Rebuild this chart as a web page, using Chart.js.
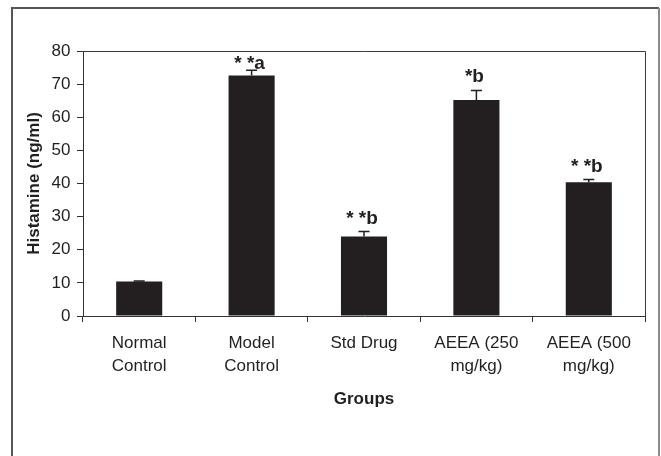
<!DOCTYPE html>
<html>
<head>
<meta charset="utf-8">
<script src="https://cdn.jsdelivr.net/npm/chart.js@4"></script>
<style>
    body { margin: 0; background: #ffffff; }
</style>
</head>
<body>
<canvas id="barChart" width="661" height="456"></canvas>
<script>

    // =========================
    // DATA
    // =========================

    const groups = [
        ["Normal", "Control"],
        ["Model", "Control"],
        ["Std Drug"],
        ["AEEA (250", "mg/kg)"],
        ["AEEA (500", "mg/kg)"]
    ];

    const histamine = [10.4, 72.6, 24.0, 65.2, 40.4];

    const errors = [0.2, 1.6, 1.5, 2.9, 0.8];

    const sigLabels = ["", "* *a", "* *b", "*b", "* *b"];

    const yTicks = [0, 10, 20, 30, 40, 50, 60, 70, 80];

    const ink = "#231f20";
    const fontName = "'Liberation Sans', Arial, sans-serif";

    // =========================
    // FRAME + ERROR BARS
    // =========================

    const framePlugin = {
        id: "frame",
        beforeDraw(chart) {
            const ctx = chart.ctx;
            ctx.save();
            ctx.strokeStyle = "#555555";
            ctx.lineWidth = 2;
            ctx.beginPath();
            ctx.moveTo(12, 456);
            ctx.lineTo(12, 8);
            ctx.lineTo(659, 8);
            ctx.stroke();
            ctx.strokeStyle = "#8a8a8a";
            ctx.beginPath();
            ctx.moveTo(659, 8);
            ctx.lineTo(659, 456);
            ctx.stroke();
            ctx.restore();
        },
        afterDraw(chart) {
            const a = chart.chartArea;
            const ctx = chart.ctx;
            ctx.save();
            ctx.strokeStyle = "#3a3a3a";
            ctx.lineWidth = 1;
            ctx.beginPath();
            ctx.moveTo(a.left, a.top + 0.5);
            ctx.lineTo(a.right + 0.5, a.top + 0.5);
            ctx.lineTo(a.right + 0.5, a.bottom);
            ctx.stroke();
            ctx.restore();
        }
    };

    const errorPlugin = {
        id: "errorBars",
        afterDatasetsDraw(chart) {
            const ctx = chart.ctx;
            const y = chart.scales.y;
            const meta = chart.getDatasetMeta(0);

            ctx.save();
            ctx.strokeStyle = ink;
            ctx.lineWidth = 1.5;

            meta.data.forEach((bar, i) => {
                const top = y.getPixelForValue(histamine[i] + errors[i]);
                const base = y.getPixelForValue(histamine[i]);

                ctx.beginPath();
                ctx.moveTo(bar.x, base);
                ctx.lineTo(bar.x, top);
                ctx.moveTo(bar.x - 5.5, top);
                ctx.lineTo(bar.x + 5.5, top);
                ctx.stroke();

                if (sigLabels[i]) {
                    // keep the label inside the plot box
                    const ly = Math.max(top - 8, chart.chartArea.top + 18);
                    ctx.fillStyle = ink;
                    ctx.font = "bold 19px " + fontName;
                    ctx.textAlign = "center";
                    ctx.textBaseline = "alphabetic";
                    ctx.fillText(sigLabels[i], bar.x - 2, ly);
                }
            });

            ctx.restore();
        }
    };

    // =========================
    // BAR CHART
    // =========================

    const ctx = document
        .getElementById("barChart")
        .getContext("2d");

    new Chart(ctx, {

        type: "bar",

        data: {
            labels: groups,
            datasets: [{
                label: "Histamine",
                data: histamine,
                backgroundColor: ink,
                borderWidth: 0,
                barPercentage: 0.41,
                categoryPercentage: 1
            }]
        },

        options: {
            responsive: false,
            animation: false,

            layout: {
                padding: { left: 13, right: 16, top: 51, bottom: 0 }
            },

            scales: {

                y: {
                    min: 0,
                    max: 80,
                    afterFit(scale) { scale.width = 70; },
                    afterBuildTicks(scale) {
                        scale.ticks = yTicks.map(v => ({ value: v }));
                    },
                    ticks: {
                        color: ink,
                        padding: 6.5,
                        font: { family: fontName, size: 17 }
                    },
                    grid: {
                        drawOnChartArea: false,
                        drawTicks: true,
                        tickLength: 6,
                        color: "#333333"
                    },
                    border: { color: "#333333", width: 1 },
                    title: {
                        display: true,
                        text: "Histamine (ng/ml)",
                        color: ink,
                        padding: { top: 11, bottom: 0 },
                        font: { family: fontName, size: 17, weight: "bold" }
                    }
                },

                x: {
                    afterFit(scale) { scale.height = 140; },
                    ticks: {
                        color: ink,
                        padding: 9.5,
                        maxRotation: 0,
                        autoSkip: false,
                        font: { family: fontName, size: 17, lineHeight: 1.35 }
                    },
                    grid: {
                        drawOnChartArea: false,
                        drawTicks: true,
                        tickLength: 6,
                        offset: true,
                        color: "#333333"
                    },
                    border: { color: "#333333", width: 1 },
                    title: {
                        display: true,
                        text: "Groups",
                        color: ink,
                        padding: { top: 0, bottom: 46 },
                        font: { family: fontName, size: 17, weight: "bold" }
                    }
                }
            },

            plugins: {
                legend: { display: false },
                tooltip: { enabled: false }
            }
        },

        plugins: [framePlugin, errorPlugin]
    });

</script>
</body>
</html>
